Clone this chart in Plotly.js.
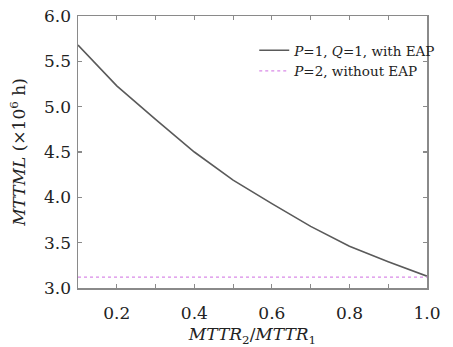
<!DOCTYPE html>
<html><head><meta charset="utf-8">
<script src="https://cdn.plot.ly/plotly-3.0.1.min.js"></script>
<style>body{margin:0;background:#fff}#chart{width:453px;height:347px}</style>
</head><body><div id="chart"></div>
<script>
const ratio = [0.1, 0.2, 0.3, 0.4, 0.5, 0.6, 0.7, 0.8, 0.9, 1.0];
const mttmlWithEAP = [5.68, 5.23, 4.86, 4.50, 4.19, 3.93, 3.68, 3.46, 3.29, 3.13];
const mttmlWithoutEAP = [3.12, 3.12, 3.12, 3.12, 3.12, 3.12, 3.12, 3.12, 3.12, 3.12];
const seriesNames = ['<i>P</i>=1, <i>Q</i>=1, with EAP', '<i>P</i>=2, without EAP'];
const xTickVals = [0.2, 0.4, 0.6, 0.8, 1.0];
const xTickText = ['0.2', '0.4', '0.6', '0.8', '1.0'];
const xMinorVals = [0.1, 0.2, 0.3, 0.4, 0.5, 0.6, 0.7, 0.8, 0.9];

const font = 'DejaVu Serif';
const traces = [
  {x: ratio, y: mttmlWithEAP, name: seriesNames[0], mode: 'lines', line: {color: '#5a5a5a', width: 1.6}},
  {x: ratio, y: mttmlWithoutEAP, name: seriesNames[1], mode: 'lines', line: {color: '#d98ae8', width: 1.3, dash: 'dot'}}
];
const axisCommon = {
  showline: true, mirror: 'ticks', linecolor: '#8a8a8a', linewidth: 1.5,
  ticks: 'inside', ticklen: 4, tickcolor: '#8a8a8a', tickwidth: 1.2,
  showgrid: false, zeroline: false, automargin: false,
  tickfont: {family: font, size: 17, color: '#222'}
};
const layout = {
  width: 453, height: 347,
  margin: {l: 78, r: 14, t: 16, b: 59},
  paper_bgcolor: '#fff', plot_bgcolor: '#fff',
  font: {family: font},
  showlegend: true,
  legend: {x: 0.505, y: 0.93, xanchor: 'left', yanchor: 'top', bgcolor: 'rgba(0,0,0,0)',
           font: {family: font, size: 13.5, color: '#222'}, tracegroupgap: 0},
  xaxis: Object.assign({}, axisCommon, {
    range: [0.1, 1.0], tickmode: 'array', tickvals: xTickVals, ticktext: xTickText,
    ticklabelstandoff: 9, ticklabeloverflow: 'allow',
    minor: {tickmode: 'array', tickvals: xMinorVals, ticks: 'inside', ticklen: 4, tickcolor: '#8a8a8a'},
    title: {text: '<i>MTTR</i><sub>2</sub>/<i>MTTR</i><sub>1</sub>', font: {family: font, size: 17, color: '#222'}, standoff: 14}
  }),
  yaxis: Object.assign({}, axisCommon, {
    range: [3.0, 6.0], dtick: 0.5, tickformat: '.1f', ticklabelstandoff: 2,
    title: {text: '<i>MTTML</i> (×10<sup>6</sup> h)', font: {family: font, size: 17, color: '#222'}, standoff: 14}
  })
};
Plotly.newPlot('chart', traces, layout, {staticPlot: true});
</script></body></html>
